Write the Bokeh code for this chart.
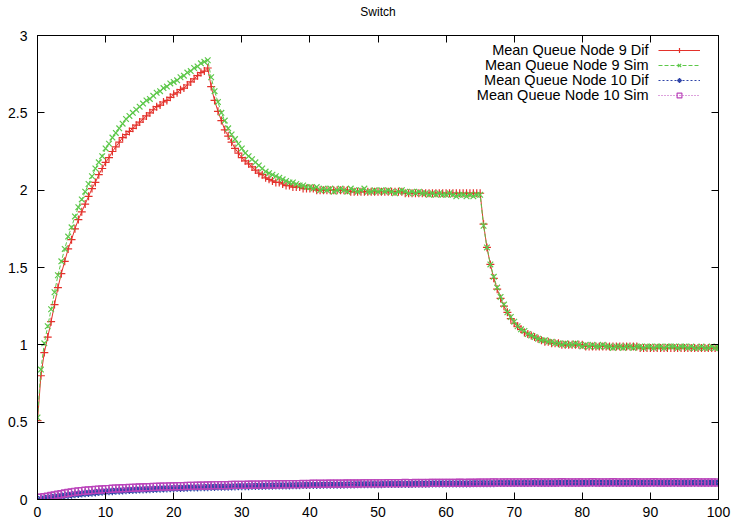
from bokeh.plotting import figure
from bokeh.models import (Range1d, LinearAxis, FixedTicker, CustomJSTickFormatter,
                          Legend, LegendItem, Label)
from bokeh.core.properties import value
from bokeh.embed import file_html
from bokeh.resources import INLINE

# ---------------- data ----------------
title_text = "Switch"
series_names = ["Mean Queue Node 9 Dif", "Mean Queue Node 9 Sim",
                "Mean Queue Node 10 Dif", "Mean Queue Node 10 Sim"]

time = [i / 2 for i in range(201)]  # sampling grid, step 0.5

node9_dif = [
    0.51, 0.80, 0.95, 1.05, 1.15, 1.26, 1.37, 1.46, 1.54, 1.62,
    1.68, 1.75, 1.81, 1.86, 1.91, 1.96, 2.01, 2.05, 2.10, 2.14,
    2.18, 2.21, 2.25, 2.28, 2.31, 2.34, 2.36, 2.38, 2.40, 2.42,
    2.44, 2.46, 2.48, 2.50, 2.52, 2.54, 2.55, 2.57, 2.58, 2.60,
    2.62, 2.63, 2.65, 2.66, 2.68, 2.70, 2.72, 2.74, 2.76, 2.77,
    2.79, 2.67, 2.58, 2.51, 2.45, 2.39, 2.35, 2.31, 2.27, 2.24,
    2.21, 2.19, 2.17, 2.15, 2.13, 2.11, 2.10, 2.08, 2.07, 2.06,
    2.05, 2.05, 2.04, 2.03, 2.03, 2.02, 2.02, 2.02, 2.01, 2.01,
    2.01, 2.01, 2.00, 2.00, 2.00, 2.00, 2.00, 2.00, 2.00, 2.00,
    2.00, 2.00, 1.99, 1.99, 1.99, 1.99, 1.99, 1.99, 1.99, 1.99,
    1.99, 1.99, 1.99, 1.99, 1.99, 1.99, 1.99, 1.99, 1.98, 1.98,
    1.98, 1.98, 1.98, 1.98, 1.98, 1.98, 1.98, 1.98, 1.98, 1.98,
    1.98, 1.98, 1.98, 1.98, 1.98, 1.98, 1.98, 1.98, 1.98, 1.98,
    1.98, 1.78, 1.63, 1.52, 1.43, 1.36, 1.30, 1.25, 1.21, 1.17,
    1.14, 1.12, 1.10, 1.08, 1.07, 1.06, 1.05, 1.04, 1.03, 1.02,
    1.02, 1.01, 1.01, 1.01, 1.00, 1.00, 1.00, 1.00, 1.00, 1.00,
    1.00, 0.99, 0.99, 0.99, 0.99, 0.99, 0.99, 0.99, 0.99, 0.99,
    0.99, 0.99, 0.99, 0.99, 0.99, 0.99, 0.99, 0.98, 0.98, 0.98,
    0.98, 0.98, 0.98, 0.98, 0.98, 0.98, 0.98, 0.98, 0.98, 0.98,
    0.98, 0.98, 0.98, 0.98, 0.98, 0.98, 0.98, 0.98, 0.98, 0.98,
    0.98,
]

node9_sim = [
    0.53, 0.84, 1.01, 1.12, 1.23, 1.34, 1.45, 1.54, 1.62, 1.70,
    1.76, 1.83, 1.89, 1.94, 1.99, 2.04, 2.09, 2.14, 2.18, 2.22,
    2.27, 2.30, 2.34, 2.37, 2.40, 2.43, 2.46, 2.48, 2.50, 2.52,
    2.54, 2.56, 2.58, 2.59, 2.61, 2.63, 2.64, 2.66, 2.67, 2.69,
    2.70, 2.71, 2.73, 2.74, 2.76, 2.77, 2.79, 2.80, 2.82, 2.83,
    2.84, 2.73, 2.64, 2.57, 2.50, 2.45, 2.40, 2.36, 2.33, 2.30,
    2.27, 2.24, 2.22, 2.20, 2.18, 2.16, 2.14, 2.12, 2.11, 2.10,
    2.09, 2.08, 2.07, 2.06, 2.05, 2.05, 2.04, 2.03, 2.03, 2.02,
    2.02, 2.01, 2.02, 2.00, 2.01, 2.00, 2.01, 1.99, 2.00, 2.01,
    2.00, 1.99, 2.01, 2.00, 1.99, 2.00, 2.01, 1.99, 1.99, 2.00,
    1.99, 2.00, 1.99, 2.00, 1.99, 1.98, 1.99, 2.00, 1.99, 1.98,
    1.99, 1.98, 1.99, 1.98, 1.98, 1.97, 1.98, 1.97, 1.98, 1.97,
    1.97, 1.98, 1.97, 1.96, 1.97, 1.97, 1.96, 1.97, 1.96, 1.97,
    1.97, 1.77, 1.63, 1.52, 1.44, 1.37, 1.31, 1.26, 1.21, 1.18,
    1.15, 1.12, 1.10, 1.09, 1.07, 1.06, 1.05, 1.04, 1.03, 1.03,
    1.02, 1.02, 1.01, 1.01, 1.00, 1.01, 1.00, 1.00, 1.01, 1.00,
    0.99, 1.00, 0.99, 1.00, 0.99, 0.99, 1.00, 0.99, 0.99, 0.98,
    0.99, 0.99, 0.98, 0.99, 0.99, 0.98, 0.99, 0.99, 0.98, 0.99,
    0.99, 0.98, 0.99, 0.99, 0.98, 0.99, 0.99, 0.99, 0.98, 0.99,
    0.99, 0.98, 0.99, 0.98, 0.98, 0.99, 0.98, 0.98, 0.99, 0.98,
    0.98,
]

node10_dif = [
    0.000, 0.004, 0.008, 0.011, 0.014, 0.017, 0.020, 0.023, 0.026, 0.029,
    0.031, 0.034, 0.036, 0.038, 0.040, 0.042, 0.044, 0.046, 0.048, 0.050,
    0.051, 0.053, 0.054, 0.056, 0.057, 0.058, 0.060, 0.061, 0.062, 0.063,
    0.064, 0.065, 0.066, 0.067, 0.068, 0.069, 0.070, 0.071, 0.071, 0.072,
    0.073, 0.074, 0.074, 0.075, 0.076, 0.077, 0.077, 0.078, 0.079, 0.079,
    0.080, 0.081, 0.081, 0.082, 0.082, 0.083, 0.083, 0.084, 0.084, 0.085,
    0.085, 0.086, 0.086, 0.087, 0.087, 0.088, 0.088, 0.089, 0.089, 0.089,
    0.090, 0.090, 0.091, 0.091, 0.091, 0.092, 0.092, 0.092, 0.093, 0.093,
    0.093, 0.094, 0.094, 0.094, 0.095, 0.095, 0.095, 0.096, 0.096, 0.096,
    0.096, 0.097, 0.097, 0.097, 0.098, 0.098, 0.098, 0.098, 0.099, 0.099,
    0.099, 0.099, 0.100, 0.100, 0.100, 0.100, 0.101, 0.101, 0.101, 0.101,
    0.101, 0.102, 0.102, 0.102, 0.102, 0.102, 0.103, 0.103, 0.103, 0.103,
    0.103, 0.103, 0.104, 0.104, 0.104, 0.104, 0.104, 0.104, 0.105, 0.105,
    0.105, 0.105, 0.105, 0.105, 0.105, 0.106, 0.106, 0.106, 0.106, 0.106,
    0.106, 0.106, 0.106, 0.107, 0.107, 0.107, 0.107, 0.107, 0.107, 0.107,
    0.107, 0.107, 0.107, 0.108, 0.108, 0.108, 0.108, 0.108, 0.108, 0.108,
    0.108, 0.108, 0.108, 0.108, 0.108, 0.109, 0.109, 0.109, 0.109, 0.109,
    0.109, 0.109, 0.109, 0.109, 0.109, 0.109, 0.109, 0.109, 0.109, 0.109,
    0.109, 0.109, 0.109, 0.109, 0.109, 0.109, 0.109, 0.109, 0.109, 0.109,
    0.109, 0.109, 0.109, 0.109, 0.109, 0.109, 0.109, 0.109, 0.109, 0.109,
    0.109,
]

node10_sim = [
    0.010, 0.013, 0.016, 0.019, 0.023, 0.027, 0.031, 0.035, 0.039, 0.043,
    0.047, 0.050, 0.053, 0.055, 0.057, 0.059, 0.061, 0.063, 0.064, 0.066,
    0.067, 0.068, 0.070, 0.071, 0.072, 0.073, 0.074, 0.075, 0.076, 0.077,
    0.078, 0.079, 0.080, 0.080, 0.081, 0.082, 0.083, 0.083, 0.084, 0.085,
    0.085, 0.086, 0.087, 0.087, 0.088, 0.088, 0.089, 0.090, 0.090, 0.090,
    0.091, 0.091, 0.092, 0.092, 0.093, 0.093, 0.093, 0.094, 0.094, 0.095,
    0.095, 0.095, 0.096, 0.096, 0.097, 0.096, 0.097, 0.098, 0.097, 0.098,
    0.098, 0.099, 0.098, 0.099, 0.100, 0.099, 0.100, 0.100, 0.101, 0.100,
    0.101, 0.102, 0.101, 0.102, 0.101, 0.102, 0.103, 0.102, 0.103, 0.102,
    0.103, 0.104, 0.103, 0.104, 0.103, 0.104, 0.105, 0.104, 0.105, 0.104,
    0.105, 0.104, 0.105, 0.106, 0.105, 0.106, 0.105, 0.106, 0.107, 0.106,
    0.106, 0.107, 0.106, 0.107, 0.106, 0.107, 0.108, 0.107, 0.107, 0.108,
    0.107, 0.108, 0.107, 0.108, 0.109, 0.108, 0.108, 0.109, 0.108, 0.109,
    0.109, 0.110, 0.109, 0.110, 0.111, 0.110, 0.110, 0.111, 0.110, 0.111,
    0.110, 0.111, 0.110, 0.111, 0.110, 0.111, 0.112, 0.111, 0.110, 0.111,
    0.110, 0.111, 0.110, 0.111, 0.112, 0.111, 0.110, 0.111, 0.110, 0.111,
    0.111, 0.110, 0.111, 0.112, 0.111, 0.110, 0.111, 0.110, 0.111, 0.112,
    0.111, 0.110, 0.111, 0.110, 0.111, 0.112, 0.111, 0.110, 0.111, 0.110,
    0.111, 0.112, 0.111, 0.110, 0.111, 0.110, 0.111, 0.112, 0.111, 0.110,
    0.111, 0.110, 0.111, 0.112, 0.111, 0.110, 0.111, 0.110, 0.111, 0.110,
    0.110,
]

x_ticks = [0, 10, 20, 30, 40, 50, 60, 70, 80, 90, 100]
x_tick_labels = ["0", "10", "20", "30", "40", "50", "60", "70", "80", "90", "100"]
y_ticks = [0, 0.5, 1, 1.5, 2, 2.5, 3]
y_tick_labels = ["0", "0.5", "1", "1.5", "2", "2.5", "3"]

# ---------------- styling ----------------
FONT = "Liberation Sans"
colors = ["#e3312b", "#5dc84a", "#2f44a8", "#bb44bb"]
dashes = ["solid", "4 2", "2 2", "1 2"]
markers = ["cross", "x", "asterisk", "square"]
series = [node9_dif, node9_sim, node10_dif, node10_sim]

p = figure(width=732, height=522, output_backend="svg", toolbar_location=None,
           x_range=Range1d(0, 100), y_range=Range1d(0, 3),
           min_border_left=37, min_border_right=14,
           min_border_top=35, min_border_bottom=23)

p.xgrid.visible = False
p.ygrid.visible = False
p.outline_line_color = "black"
p.outline_line_alpha = 1.0
p.background_fill_color = "white"
p.border_fill_color = "white"

def style_axis(ax, ticks, labels=None):
    ax.ticker = FixedTicker(ticks=ticks)
    ax.major_tick_in = 7
    ax.major_tick_out = 0
    ax.minor_tick_line_color = None
    ax.axis_line_color = "black"
    ax.major_tick_line_color = "black"
    if labels is not None:
        ax.major_label_overrides = {t: l for t, l in zip(ticks, labels)}
        ax.major_label_text_font = FONT
        ax.major_label_text_font_size = "14px"
        ax.major_label_text_color = "black"
    else:
        ax.formatter = CustomJSTickFormatter(code="return ''")
        ax.major_label_standoff = 0
        ax.major_label_text_font_size = "1px"

style_axis(p.xaxis[0], x_ticks, x_tick_labels)
p.xaxis[0].major_label_standoff = 7
style_axis(p.yaxis[0], y_ticks, y_tick_labels)
p.yaxis[0].major_label_standoff = 10

# top axis (mirror ticks) carries the chart title as its label
top_axis = LinearAxis(axis_label=title_text)
style_axis(top_axis, x_ticks)
top_axis.axis_label_text_font = FONT
top_axis.axis_label_text_font_size = "12px"
top_axis.axis_label_text_font_style = "normal"
top_axis.axis_label_text_color = "black"
top_axis.axis_label_standoff = 17
p.add_layout(top_axis, "above")
right_axis = LinearAxis()
style_axis(right_axis, y_ticks)
p.add_layout(right_axis, "right")

items = []
for name, ys, c, d, m in zip(series_names, series, colors, dashes, markers):
    rl = p.line(time, ys, line_color=c, line_width=1, line_dash=d)
    if m == "square":
        rs = p.scatter(time, ys, marker=m, size=7, line_color=c, fill_color=None, line_width=1.2)
    else:
        rs = p.scatter(time, ys, marker=m, size=8, line_color=c, line_width=1.2)
    items.append(LegendItem(label=value(" "), renderers=[rl, rs]))

legend = Legend(items=items, location=(621, 398), padding=0, margin=0, spacing=3,
                glyph_width=42, glyph_height=12, label_height=12, label_width=0,
                label_standoff=0, label_text_font_size="8px",
                border_line_color=None, background_fill_alpha=0)
p.add_layout(legend)

row_y = [449.5, 434.5, 419.5, 404.5]
for name, yy in zip(series_names, row_y):
    p.add_layout(Label(x=611, y=yy, x_units="screen", y_units="screen", text=name,
                       text_align="right", text_baseline="middle",
                       text_font=FONT, text_font_size="14.5px", text_color="black"))

open("out.html", "w").write(file_html(p, INLINE))
